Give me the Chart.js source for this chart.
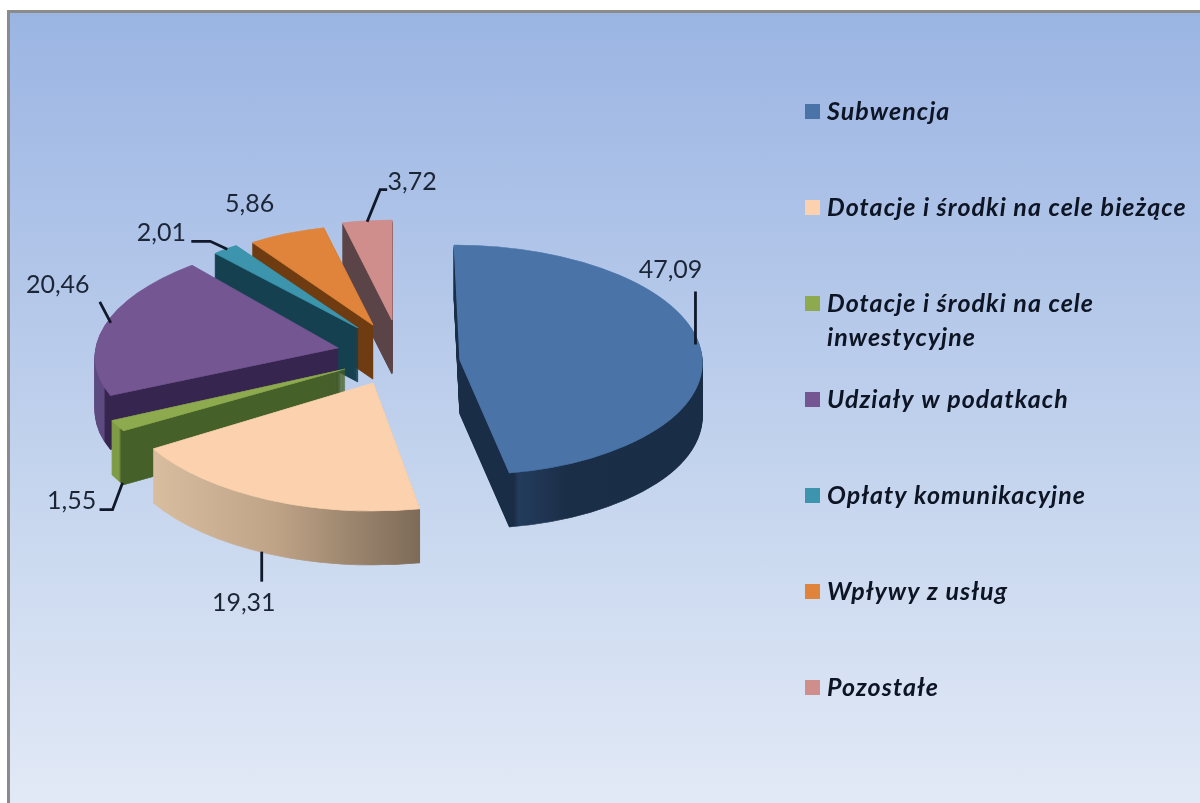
<!DOCTYPE html>
<html>
<head>
<meta charset="utf-8">
<script src="https://cdn.jsdelivr.net/npm/chart.js@4/dist/chart.umd.min.js"></script>
<style>
    html, body { margin: 0; padding: 0; background: #fff; overflow: hidden; }
    #frame {
        position: absolute; left: 7px; top: 10px; width: 1193px; height: 793px; box-sizing: border-box;
        border-left: 3px solid #8b8b8b; border-top: 3px solid #8b8b8b;
        background: linear-gradient(to bottom, #9bb5e3 0%, #b3c7e9 35%, #c9d8ef 65%, #e2e9f6 100%);
    }
    #pie { position: absolute; left: 0; top: 0; }
</style>
</head>
<body>
<div id="frame"></div>
<canvas id="pie" width="1200" height="803"></canvas>
<script>
/* ======================================================
    DATA
====================================================== */
const categories = ['Subwencja', 'Dotacje i środki na cele bieżące', 'Dotacje i środki na cele inwestycyjne',
    'Udziały w podatkach', 'Opłaty komunikacyjne', 'Wpływy z usług', 'Pozostałe'];
const shareValues = [47.09, 19.31, 1.55, 20.46, 2.01, 5.86, 3.72];
const legendLines = [['Subwencja'], ['Dotacje i środki na cele bieżące'], ['Dotacje i środki na cele', 'inwestycyjne'],
    ['Udziały w podatkach'], ['Opłaty komunikacyjne'], ['Wpływy z usług'], ['Pozostałe']];

/* ======================================================
    STYLE / LAYOUT
====================================================== */
const topColors = ['#4a74a8', '#fcd2ae', '#8dab4e', '#735692', '#3c95ad', '#df843a', '#cf8e8c'];
// side wall colours, left to right
const sideStops = [
    [[0, '#1a2d46'], [0.2, '#1a2d46'], [0.22, '#233c5c'], [0.42, '#1b2e48'], [1, '#1a2d46']],
    [[0, '#d9bd9f'], [0.45, '#c0a488'], [1, '#7d6b58']],
    [[0, '#7f9c45'], [0.03, '#7f9c45'], [0.04, '#46602a'], [1, '#46602a']],
    [[0, '#5d4a80'], [0.06, '#5d4a80'], [0.07, '#36254f'], [1, '#36254f']],
    [[0, '#15404f'], [1, '#15404f']],
    [[0, '#6e3c10'], [1, '#6e3c10']],
    [[0, '#5b4448'], [1, '#5b4448']]
];
const BASE_RADIUS = 200;
const DEPTH = 54;
// where each exploded slice sits in the 3D view
const apexX = [460, 373, 345, 338, 358, 373, 392];
const apexY = [360, 383, 369, 348, 328, 325, 320];
const radiusX = [242, 256, 258, 242, 215, 213, 213];
const radiusY = [115, 128, 120, 111, 100, 100, 100];
const shearX = [0.05, 0, 0, -0.18, 0, 0, 0];
const drawOrder = [6, 5, 4, 3, 2, 1, 0];

// leader lines relative to the slice's mid-angle edge point
const leaders = [
    { depth: 0, line: [[-5, -5], [-5, -58]], text: [-30, -80] },
    { depth: 1, line: [[-6, -2], [-6, 28]], text: [-24, 49] },
    { depth: 1, line: [[5, 3], [-5, 30], [-18, 30]], text: [-46, 21] },
    { depth: 0, line: [[6, -3], [-5, -24]], text: [-47, -41] },
    { depth: 0, line: [[2, 0], [-15, -8], [-34, -8]], text: [-64, -16] },
    { depth: 0, line: [], text: [-37, -30] },
    { depth: 0, line: [[0, 1], [13, -31], [20, -31]], text: [45, -39] }
];

const LEGEND_X = 805, LEGEND_TEXT_X = 827, LEGEND_TOP = 112, LEGEND_STEP = 96, LEGEND_LINE = 34;

/* ======================================================
    3D PIE PLUGIN
====================================================== */
function drawSlice(ctx, arc, i, dy, fill, edge) {
    const r = arc.outerRadius;
    ctx.save();
    ctx.translate(apexX[i], apexY[i] + dy);
    ctx.transform(1, 0, shearX[i], 1, 0, 0);
    ctx.scale(radiusX[i] / r, radiusY[i] / r);
    ctx.translate(-arc.x, -arc.y);
    const styled = Object.create(arc, {
        options: { value: Object.assign({}, arc.options, { backgroundColor: fill, borderColor: fill, borderWidth: edge }) }
    });
    Chart.elements.ArcElement.prototype.draw.call(styled, ctx);
    ctx.restore();
}

function midPoint(arc, i) {
    const mid = (arc.startAngle + arc.endAngle) / 2;
    const my = Math.sin(mid) * radiusY[i];
    return { x: apexX[i] + Math.cos(mid) * radiusX[i] + shearX[i] * my, y: apexY[i] + my };
}

const pie3d = {
    id: 'pie3d',
    beforeDatasetDraw(chart) {
        const ctx = chart.ctx;
        const arcs = chart.getDatasetMeta(0).data;
        drawOrder.forEach(i => {
            const arc = arcs[i], r = arc.outerRadius;
            const grad = ctx.createLinearGradient(arc.x - r, 0, arc.x + r, 0);
            // stops run across the visible width of the slice
            const mids = [arc.startAngle, arc.endAngle];
            if (arc.startAngle < Math.PI && arc.endAngle > Math.PI) mids.push(Math.PI);
            if (arc.startAngle < 0 && arc.endAngle > 0) mids.push(0);
            const xs = mids.map(a => Math.cos(a)).concat(0);
            const lo = Math.min(...xs), hi = Math.max(...xs);
            sideStops[i].forEach(([p, c]) => grad.addColorStop((lo + (hi - lo) * p + 1) / 2, c));
            for (let d = DEPTH; d >= 1; d--) drawSlice(ctx, arc, i, d, grad, 1);
        });
        drawOrder.forEach(i => drawSlice(ctx, arcs[i], i, 0, topColors[i], 1));
        return false;
    },
    afterDraw(chart) {
        const ctx = chart.ctx;
        const arcs = chart.getDatasetMeta(0).data;

        // value labels + leaders
        ctx.save();
        ctx.font = '25px Lato';
        ctx.textAlign = 'center';
        ctx.textBaseline = 'middle';
        ctx.fillStyle = '#1b2536';
        ctx.strokeStyle = '#10182a';
        ctx.lineWidth = 2.8;
        shareValues.forEach((v, i) => {
            const p = midPoint(arcs[i], i);
            const lay = leaders[i];
            const ay = p.y + lay.depth * DEPTH;
            if (lay.line.length) {
                ctx.beginPath();
                lay.line.forEach(([dx, dy], k) => {
                    if (k === 0) ctx.moveTo(p.x + dx, ay + dy);
                    else ctx.lineTo(p.x + dx, ay + dy);
                });
                ctx.stroke();
            }
            ctx.fillText(v.toFixed(2).replace('.', ','), p.x + lay.text[0], ay + lay.text[1]);
        });
        ctx.restore();

        // legend
        ctx.save();
        ctx.font = 'italic bold 25px Lato';
        ctx.letterSpacing = '1.05px';
        ctx.textAlign = 'left';
        ctx.textBaseline = 'middle';
        legendLines.forEach((lines, i) => {
            const y = LEGEND_TOP + i * LEGEND_STEP;
            ctx.fillStyle = topColors[i];
            ctx.fillRect(LEGEND_X, y - 8, 15, 15);
            ctx.fillStyle = '#0d1424';
            lines.forEach((t, k) => ctx.fillText(t, LEGEND_TEXT_X, y + k * LEGEND_LINE));
        });
        ctx.restore();
    }
};

/* ======================================================
    CHART
====================================================== */
new Chart(document.getElementById('pie'), {
    type: 'pie',
    data: {
        labels: categories,
        datasets: [{ data: shareValues, backgroundColor: topColors, borderWidth: 0, radius: BASE_RADIUS }]
    },
    options: {
        responsive: false,
        animation: false,
        plugins: { legend: { display: false }, tooltip: { enabled: false } }
    },
    plugins: [pie3d]
});
</script>
</body>
</html>
